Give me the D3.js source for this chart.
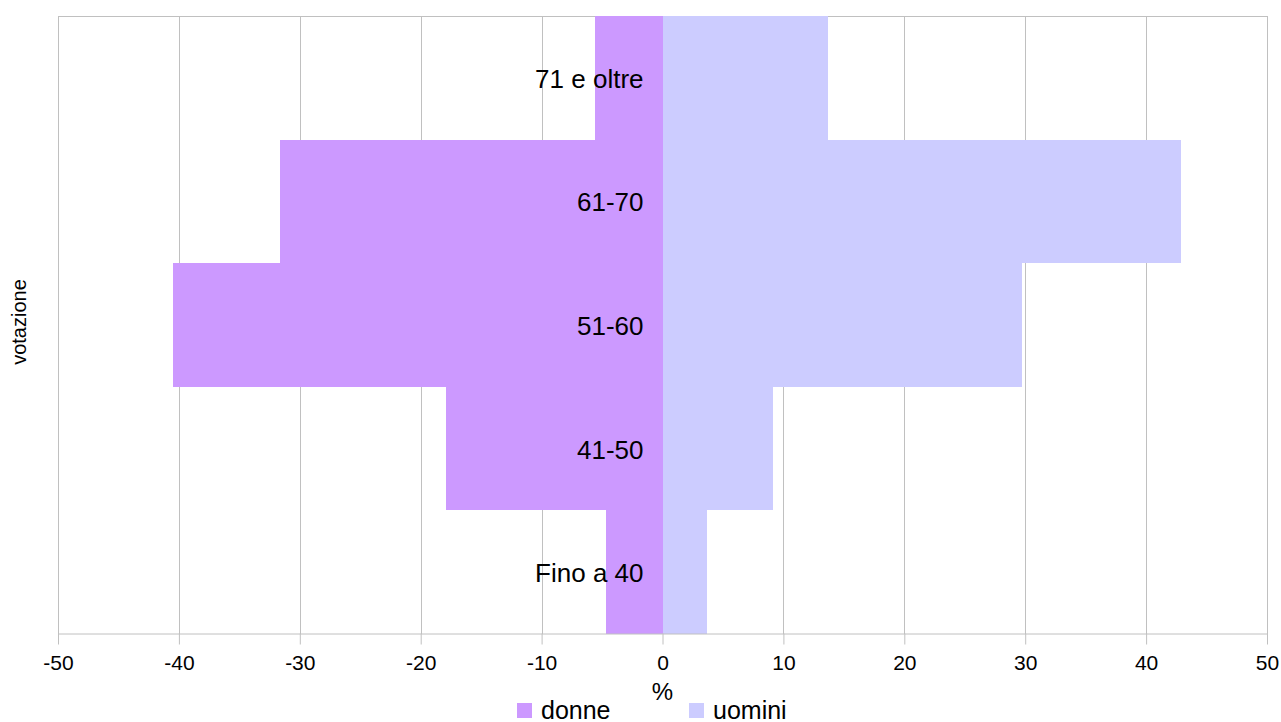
<!DOCTYPE html>
<html>
<head>
<meta charset="utf-8">
<script src="https://cdn.jsdelivr.net/npm/d3@7"></script>
<style>
    body { margin: 0; background: #fff; }
    svg { display: block; font-family: "Liberation Sans", Arial, sans-serif; }
</style>
</head>
<body>
<script>
const categories = ["71 e oltre", "61-70", "51-60", "41-50", "Fino a 40"];
const donne = [-5.6, -31.6, -40.5, -17.9, -4.7];
const uomini = [13.7, 42.9, 29.7, 9.1, 3.7];
const xTicks = [-50, -40, -30, -20, -10, 0, 10, 20, 30, 40, 50];

const width = 1281;
const height = 722;
const plotLeft = 58, plotRight = 1267, plotTop = 16, plotBottom = 634;

const svg = d3.select("body")
    .append("svg")
    .attr("width", width)
    .attr("height", height);

const xScale = d3.scaleLinear()
    .domain([-50, 50])
    .range([plotLeft, plotRight]);

const yScale = d3.scaleBand()
    .domain(categories)
    .range([plotTop, plotBottom])
    .padding(0);

// vertical gridlines
svg.append("g")
    .selectAll("line")
    .data(xTicks)
    .enter()
    .append("line")
    .attr("x1", d => Math.round(xScale(d)) + 0.5)
    .attr("x2", d => Math.round(xScale(d)) + 0.5)
    .attr("y1", plotTop)
    .attr("y2", plotBottom)
    .attr("stroke", "#c0c0c0")
    .attr("stroke-width", 1);

// top border
svg.append("line")
    .attr("x1", plotLeft).attr("x2", plotRight + 1)
    .attr("y1", plotTop + 0.5).attr("y2", plotTop + 0.5)
    .attr("stroke", "#c0c0c0");

const data = categories.map((c, i) => ({ cat: c, donne: donne[i], uomini: uomini[i] }));

svg.selectAll(".donne")
    .data(data)
    .enter()
    .append("rect")
    .attr("class", "donne")
    .attr("x", d => xScale(d.donne))
    .attr("y", d => yScale(d.cat))
    .attr("width", d => xScale(0) - xScale(d.donne))
    .attr("height", yScale.bandwidth())
    .attr("shape-rendering", "crispEdges")
    .attr("fill", "#cc99ff");

svg.selectAll(".uomini")
    .data(data)
    .enter()
    .append("rect")
    .attr("class", "uomini")
    .attr("x", xScale(0))
    .attr("y", d => yScale(d.cat))
    .attr("width", d => xScale(d.uomini) - xScale(0))
    .attr("height", yScale.bandwidth())
    .attr("shape-rendering", "crispEdges")
    .attr("fill", "#ccccff");

// category labels
svg.selectAll(".cat")
    .data(categories)
    .enter()
    .append("text")
    .attr("class", "cat")
    .attr("x", xScale(0) - 19)
    .attr("y", d => yScale(d) + yScale.bandwidth() / 2 + 10)
    .attr("text-anchor", "end")
    .style("font-size", "26px")
    .attr("fill", "#000")
    .text(d => d);

// x axis
const xAxis = d3.axisBottom(xScale)
    .tickValues(xTicks)
    .tickSize(11)
    .tickPadding(11)
    .tickFormat(d => d);

const gx = svg.append("g")
    .attr("transform", `translate(0, ${plotBottom - 0.5})`)
    .call(xAxis);
gx.select(".domain").attr("stroke", "#c0c0c0").attr("d", `M${plotLeft},0.5H${plotRight + 1}`);
gx.selectAll(".tick line").attr("stroke", "#c0c0c0");
gx.selectAll(".tick text")
    .style("font-size", "21px")
    .attr("fill", "#000")
    .attr("font-family", "Liberation Sans, Arial, sans-serif");

svg.append("text")
    .attr("x", xScale(0))
    .attr("y", 700)
    .attr("text-anchor", "middle")
    .style("font-size", "24px")
    .text("%");

svg.append("text")
    .attr("transform", "rotate(-90)")
    .attr("x", -322)
    .attr("y", 26)
    .attr("text-anchor", "middle")
    .style("font-size", "20px")
    .text("votazione");

// legend
const legend = [{ name: "donne", color: "#cc99ff", x: 517 }, { name: "uomini", color: "#ccccff", x: 689 }];
legend.forEach(l => {
    svg.append("rect")
        .attr("x", l.x)
        .attr("y", 703)
        .attr("width", 15)
        .attr("height", 15)
        .attr("fill", l.color);
    svg.append("text")
        .attr("x", l.x + 24)
        .attr("y", 719)
        .style("font-size", "25px")
        .text(l.name);
});
</script>
</body>
</html>
